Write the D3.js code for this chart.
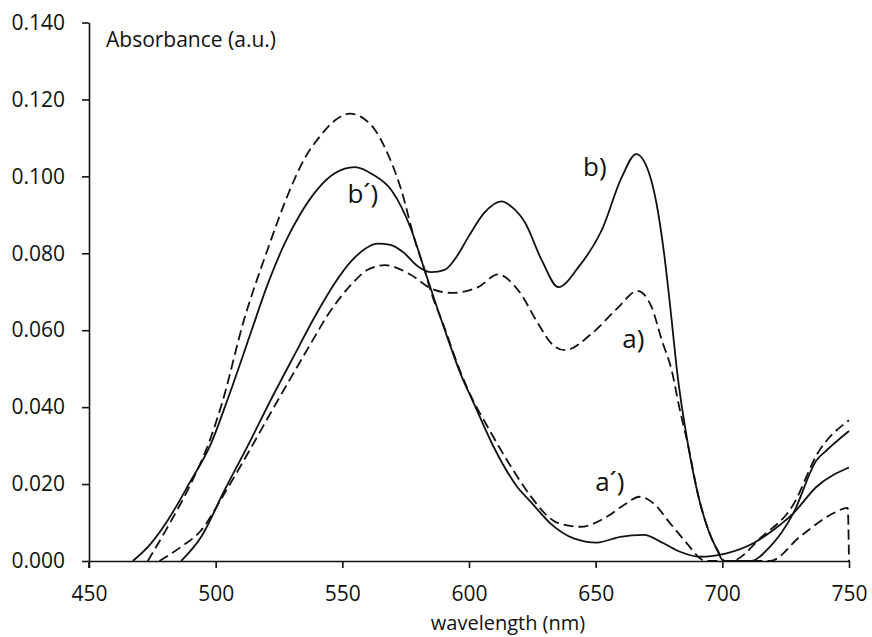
<!DOCTYPE html>
<html>
<head>
<meta charset="utf-8">
<script src="https://cdn.jsdelivr.net/npm/d3@7"></script>
<style>
  html, body { margin: 0; padding: 0; background: #fff; }
  svg { display: block; }
  text { font-family: "Open Sans", sans-serif; fill: #111; }
</style>
</head>
<body>
<svg id="chart" width="872" height="637"></svg>
<script>
// ---- data (wavelength nm, absorbance a.u.) ----
const xTicks = [450, 500, 550, 600, 650, 700, 750];
const yTicks = [0, 0.02, 0.04, 0.06, 0.08, 0.10, 0.12, 0.14];

const seriesA = [ // a) dashed
  [477.8,0],[486.4,0.0037],[494.3,0.008],[503.5,0.0176],[515.3,0.031],[523,0.0400],[530,0.0480],
  [537.5,0.0565],[544.3,0.0640],[553.3,0.0717],[560,0.0757],[567,0.0769],[577.3,0.0743],
  [585.2,0.0708],[593.1,0.0697],[603.6,0.0712],[611.5,0.0745],[619.4,0.0704],[627.3,0.0617],
  [632.6,0.0565],[637.9,0.0548],[648.4,0.0591],[659,0.066],[666.5,0.0702],[672.1,0.066],
  [676.1,0.0574],[680,0.0496],[683,0.040],[686.6,0.0297],[690.6,0.0167],[694.5,0.008],
  [698,0.003],[701,0],[703.5,0],[715.6,0.0063],[727.5,0.0141],[738,0.0284],[750,0.0366]
];
const seriesB = [ // b) solid
  [486.4,0],[494.3,0.0063],[503.5,0.0184],[512.7,0.0300],[521.7,0.0418],[530,0.0522],
  [540.4,0.0650],[547,0.0722],[553.6,0.0780],[559,0.0812],[564,0.0825],[569,0.0822],[574,0.0803],
  [580,0.0765],[585.2,0.0751],[590.4,0.0757],[595,0.0790],[599.7,0.0842],[606,0.0905],
  [612.8,0.0935],[617,0.092],[622.1,0.0880],[628.7,0.0782],[635.3,0.0712],[643.2,0.0764],
  [652.4,0.086],[660.3,0.0998],[666,0.1058],[671,0.1010],[674,0.0930],[677,0.0800],[680,0.0626],
  [682,0.050],[686.6,0.0297],[690.6,0.0167],[694.5,0.008],[697.8,0.003],[700.5,0],[711,0],
  [718.8,0.0037],[728,0.0124],[737.2,0.0262],[741.2,0.0288],[750,0.0338]
];
const seriesA2 = [ // a´) dashed
  [473.2,0],[481.1,0.0089],[489.6,0.0193],[498.2,0.0323],[502.5,0.041],[511.2,0.0627],
  [520.4,0.0808],[529,0.096],[535,0.1045],[541.4,0.1106],[547,0.1145],[552.9,0.1163],
  [558.5,0.115],[563,0.112],[566.7,0.1076],[573.3,0.0964],[578.6,0.0834],[582.5,0.0756],
  [585.2,0.0696],[590,0.0612],[596.6,0.0492],[602,0.0412],[605.8,0.0367],[615,0.0262],
  [624.2,0.017],[630.8,0.0118],[634.7,0.0100],[643.9,0.0089],[654.4,0.0115],[661,0.0145],
  [667.5,0.0167],[672.8,0.015],[679.4,0.0098],[686,0.0046],[691.2,0.0007],[693,0],
  [718.8,0],[730.6,0.0063],[743.8,0.0124],[749.5,0.0138],[750,0]
];
const seriesB2 = [ // b´) solid
  [467.3,0],[474.5,0.0046],[481.1,0.0106],[489.6,0.0202],[498.2,0.0306],[504.7,0.042],
  [513.8,0.0592],[520,0.071],[527.2,0.0825],[533.6,0.0904],[540.4,0.0968],[547,0.1008],
  [554.9,0.1024],[562,0.1005],[569.4,0.0964],[577.3,0.086],[582.5,0.0756],[590,0.0609],
  [596.6,0.0488],[601.9,0.041],[609.7,0.0297],[619,0.0193],[624.2,0.0155],[632.1,0.0098],
  [641.3,0.0059],[650.5,0.0048],[659.7,0.0063],[668.9,0.0068],[676.8,0.0046],[683.3,0.0024],
  [691.2,0.0011],[701.7,0.002],[712.2,0.0046],[720,0.008],[728,0.0124],[737.2,0.0193],[750,0.0243]
];

const labels = [
  {text: "b)",  x: 645.0, y: 0.1000},
  {text: "b\u00B4)", x: 552.0, y: 0.0930},
  {text: "a)",  x: 660.5, y: 0.0555},
  {text: "a\u00B4)", x: 649.8, y: 0.0182}
];

// ---- layout ----
const svg = d3.select("#chart");
const x = d3.scaleLinear().domain([450, 750]).range([89, 849]);
const y = d3.scaleLinear().domain([0, 0.14]).range([561, 22.5]);

// axes
const xAxis = svg.append("g").attr("transform", `translate(0,${y(0)})`)
  .call(d3.axisBottom(x).tickValues(xTicks).tickSize(7).tickPadding(18).tickSizeOuter(0));
const yAxis = svg.append("g").attr("transform", `translate(${x(450)},0)`)
  .call(d3.axisLeft(y).tickValues(yTicks).tickSize(7).tickPadding(17).tickSizeOuter(0)
        .tickFormat(d3.format(".3f")));
[xAxis, yAxis].forEach(g => {
  g.select(".domain").attr("stroke", "#111").attr("stroke-width", 1.6);
  g.selectAll(".tick line").attr("stroke", "#111").attr("stroke-width", 1.6);
  g.selectAll(".tick text").style("font-family", '"Open Sans", sans-serif')
    .style("font-size", "21px").attr("fill", "#111");
});
svg.append("line").attr("x1", x(450)).attr("x2", x(450)).attr("y1", y(0)).attr("y2", y(0) + 7)
  .attr("stroke", "#111").attr("stroke-width", 1.6);

// axis titles
svg.append("text").attr("x", 106).attr("y", 47).style("font-size", "21px").text("Absorbance (a.u.)");
svg.append("text").attr("x", 508).attr("y", 630).attr("text-anchor", "middle")
  .style("font-size", "20px").text("wavelength (nm)");

// curves
const line = d3.line().x(d => x(d[0])).y(d => y(d[1])).curve(d3.curveMonotoneX);
const series = [
  {data: seriesA,  dash: "10,5"},
  {data: seriesB,  dash: null},
  {data: seriesA2, dash: "10,5"},
  {data: seriesB2, dash: null}
];
series.forEach(s => {
  svg.append("path").attr("d", line(s.data)).attr("fill", "none")
    .attr("stroke", "#111").attr("stroke-width", 1.8)
    .attr("stroke-dasharray", s.dash);
});

// curve labels
labels.forEach(l => {
  svg.append("text").attr("x", x(l.x)).attr("y", y(l.y)).style("font-size", "26px").text(l.text);
});
</script>
</body>
</html>
